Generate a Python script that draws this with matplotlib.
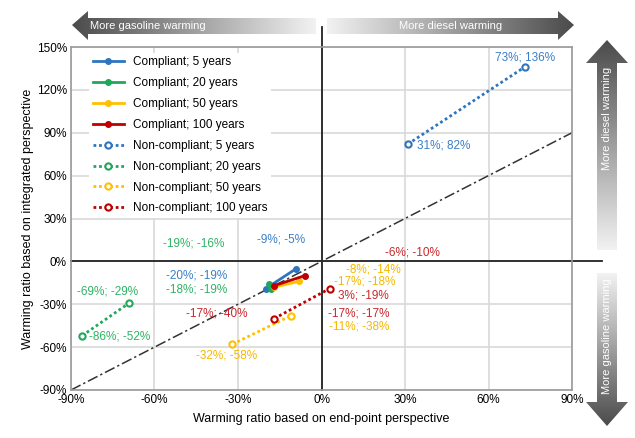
import numpy as np
import matplotlib
matplotlib.use('Agg')
import matplotlib.pyplot as plt
from matplotlib.patches import Polygon
from matplotlib.colors import LinearSegmentedColormap

# data: (end-point %, integrated %) pairs, start/end per series
series = ['5 years', '20 years', '50 years', '100 years']
colors = ['#2e75c0', '#1fa85a', '#ffc000', '#c00000']
text_colors = ['#3a7fc8', '#2db364', '#f5b800', '#c8282d']

compliant_x = [[-20, -9], [-19, -18], [-17, -8], [-17, -6]]
compliant_y = [[-19, -5], [-16, -19], [-18, -14], [-17, -10]]
noncomp_x = [[31, 73], [-86, -69], [-32, -11], [-17, 3]]
noncomp_y = [[82, 136], [-52, -29], [-58, -38], [-40, -19]]

# label text, colour index, position (data coords)
labels = [
    ('73%; 136%', 0, 73, 143), ('31%; 82%', 0, 44, 81),
    ('-9%; -5%', 0, -14.5, 15.5), ('-20%; -19%', 0, -45, -10),
    ('-19%; -16%', 1, -46, 12.5), ('-18%; -19%', 1, -45, -19.5),
    ('-69%; -29%', 1, -77, -21), ('-86%; -52%', 1, -72.5, -52.5),
    ('-32%; -58%', 2, -34, -66), ('-8%; -14%', 2, 18.5, -5.5),
    ('-17%; -18%', 2, 15.5, -14), ('-11%; -38%', 2, 13.5, -45.5),
    ('-17%; -40%', 3, -37.5, -36.5), ('-6%; -10%', 3, 32.5, 6.3),
    ('3%; -19%', 3, 15, -24), ('-17%; -17%', 3, 13.5, -36.5),
]
diag = [-90, 90]
ticks = [-90, -60, -30, 0, 30, 60, 90]
yticks = [-90, -60, -30, 0, 30, 60, 90, 120, 150]

plt.rcParams['font.family'] = ['Liberation Sans', 'DejaVu Sans']
fig = plt.figure(figsize=(6.35, 4.38), dpi=100)
ax = fig.add_axes([71/635, 48/438, 501/635, 343/438])

ax.set_xlim(-90, 90)
ax.set_ylim(-90, 150)
ax.set_xticks(ticks)
ax.set_yticks(yticks)
ax.set_xticklabels(['%d%%' % t for t in ticks], fontsize=8.5)
ax.set_yticklabels(['%d%%' % t for t in yticks], fontsize=8.5)
ax.tick_params(length=0, pad=3)
ax.grid(color='#d9d9d9', lw=1.2)
ax.set_axisbelow(True)
for s in ax.spines.values():
    s.set_color('#9a9a9a')
    s.set_linewidth(1.2)
ax.set_xlabel('Warming ratio based on end-point perspective', fontsize=9, labelpad=5)
ax.set_ylabel('Warming ratio based on integrated perspective', fontsize=9, labelpad=2)

ax.axhline(0, color='#222222', lw=1.3, xmax=1 + 30/501, clip_on=False, zorder=1.5)
ax.axvline(0, color='#222222', lw=1.3, ymax=1 + 20/343, clip_on=False, zorder=1.5)
ax.plot(diag, diag, color='#333333', lw=1.1, ls=(0, (7, 2, 1.5, 2)), zorder=2)

for i, name in enumerate(series):
    ax.plot(compliant_x[i], compliant_y[i], color=colors[i], lw=2, marker='o', ms=4,
            label='Compliant; ' + name, zorder=4)
for i, name in enumerate(series):
    ax.plot(noncomp_x[i], noncomp_y[i], color=colors[i], lw=2, ls=(0, (1, 1)), marker='o',
            ms=4.5, mfc='white', mew=1.5, label='Non-compliant; ' + name, zorder=3)

for txt, ci, x, y in labels:
    ax.text(x, y, txt, color=text_colors[ci], fontsize=8.5, ha='center', va='center', zorder=5)

leg = ax.legend(loc='upper left', bbox_to_anchor=(0.025, 1.0), fontsize=8.5, frameon=True,
                edgecolor='none', facecolor='white', framealpha=1, handlelength=2.6,
                labelspacing=0.75, borderpad=0.3)
leg.get_frame().set_linewidth(0)

# gradient arrows drawn in pixel coordinates on an overlay
ov = fig.add_axes([0, 0, 1, 1], zorder=-1)
ov.set_xlim(0, 635)
ov.set_ylim(438, 0)
ov.axis('off')
cmap = LinearSegmentedColormap.from_list('g', ['#4b4b4b', '#f2f2f2'])


def grad_arrow(verts, vertical, dark_first):
    poly = Polygon(verts, closed=True, facecolor='none', edgecolor='none')
    ov.add_patch(poly)
    xs = [v[0] for v in verts]
    ys = [v[1] for v in verts]
    g = np.linspace(0, 1, 256)
    if not dark_first:
        g = g[::-1]
    arr = g.reshape(-1, 1) if vertical else g.reshape(1, -1)
    im = ov.imshow(arr, cmap=cmap, extent=(min(xs), max(xs), max(ys), min(ys)),
                   origin='upper', aspect='auto', interpolation='bilinear')
    im.set_clip_path(poly)


grad_arrow([(72, 25), (88, 11), (88, 18), (316, 18), (316, 34), (88, 34), (88, 40)],
           False, True)
grad_arrow([(574, 25), (558, 11), (558, 18), (327, 18), (327, 34), (558, 34), (558, 40)],
           False, False)
grad_arrow([(607, 40), (628, 63), (617, 63), (617, 250), (597, 250), (597, 63), (586, 63)],
           True, True)
grad_arrow([(607, 426), (628, 402), (617, 402), (617, 273), (597, 273), (597, 402), (586, 402)],
           True, False)
ov.set_xlim(0, 635)
ov.set_ylim(438, 0)
ov.text(90, 26, 'More gasoline warming', color='white', fontsize=8, ha='left', va='center')
ov.text(502, 26, 'More diesel warming', color='white', fontsize=8, ha='right', va='center')
ov.text(607, 118, 'More diesel warming', color='white', fontsize=8, ha='center', va='center',
        rotation=90)
ov.text(607, 336, 'More gasoline warming', color='white', fontsize=8, ha='center', va='center',
        rotation=90)

fig.savefig('out.png', dpi=100)
